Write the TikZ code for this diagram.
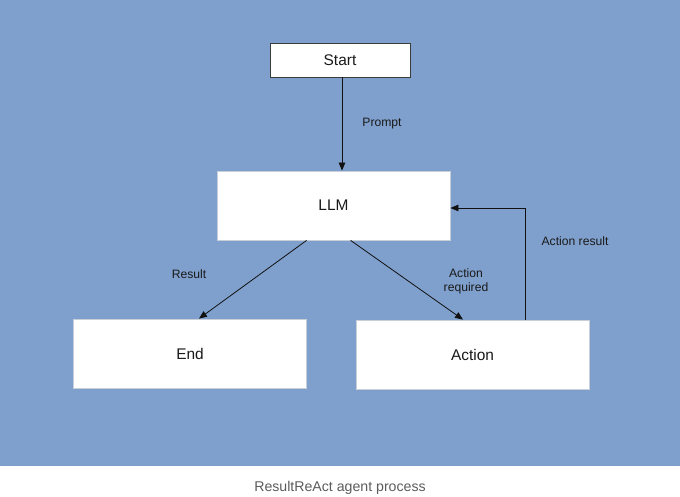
\documentclass[tikz,border=0pt]{standalone}
\usepackage{fontspec}
\setmainfont{Liberation Sans}
\usetikzlibrary{arrows.meta}
\definecolor{bgColor}{HTML}{7FA0CD}
\definecolor{boxLineColor}{HTML}{C9CFD9}
\definecolor{startLineColor}{HTML}{3C3C3C}
\definecolor{linkColor}{HTML}{111111}
\definecolor{labelTextColor}{HTML}{1A1A1A}
\definecolor{captionColor}{HTML}{5C5C5C}
\def\textStart{Start}
\def\textLLM{LLM}
\def\textEnd{End}
\def\textAction{Action}
\def\textCaption{ResultReAct agent process}

\begin{document}
\begin{tikzpicture}[x=1bp,y=-1bp,
box/.style={draw=boxLineColor, line width=0.8bp, fill=white, inner sep=0pt,
minimum width=233bp, minimum height=69bp, text=labelTextColor,
font=\fontsize{15.5}{18}\selectfont},
link/.style={draw=linkColor, line width=0.8bp, -{Triangle[length=8bp,width=6.5bp]}},
linklabel/.style={inner sep=1bp, text=labelTextColor, align=center,
font=\fontsize{12.2}{14}\selectfont}]

% page and background
\fill[white] (0, 0) rectangle (680, 497);
\fill[bgColor] (0, 0) rectangle (680, 466);
\useasboundingbox (0, 0) rectangle (680, 497);

% box layer
\begin{scope}
\node[box, draw=startLineColor, minimum width=140bp, minimum height=34bp]
(start) at (340, 60) {\textStart};
\node[box] (llm) at (333.5, 205.5) {\textLLM};
\node[box] (end) at (190, 353.5) {\textEnd};
\node[box] (action) at (472.5, 354.5) {\textAction};
\end{scope}

% link layer
\begin{scope}
\draw[link] ([xshift=2bp]start.south) -- ([xshift=2bp]start.south |- llm.north);
\draw[link] ([xshift=90bp]llm.south west) -- ([xshift=9bp]end.north);
\draw[link] ([xshift=134bp]llm.south west) -- ([xshift=-9.5bp]action.north);
\draw[link] ([xshift=52.5bp]action.north) |- ([yshift=-2.5bp]llm.east);
\end{scope}

% label layer
\begin{scope}
\node[linklabel] (promptLabel) at (382, 124) {Prompt};
\node[linklabel] (resultLabel) at (189, 274) {Result};
\node[linklabel] (requiredLabel) at (466, 281) {Action\\required};
\node[linklabel] (loopLabel) at (575, 241) {Action result};
\end{scope}

% caption
\node[text=captionColor, font=\fontsize{14.2}{16}\selectfont]
(caption) at (340, 487.5) {\textCaption};

\end{tikzpicture}
\end{document}
